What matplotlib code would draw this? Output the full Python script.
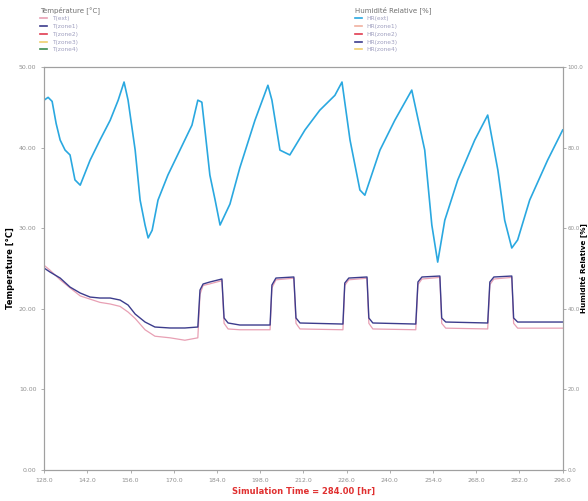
import matplotlib.pyplot as plt
from matplotlib.ticker import FormatStrFormatter
from matplotlib.lines import Line2D

# Humidite relative exterieure [%]
hum_t = [128.0, 129.3, 130.6, 131.9, 133.2, 134.8, 136.4, 138.0, 139.7, 142.9,
         146.1, 149.4, 152.0, 153.9, 155.2, 157.5, 159.1, 160.7, 161.7, 163.0,
         164.9, 168.1, 172.0, 175.9, 177.8, 179.1, 180.1, 181.7, 183.4, 185.0,
         188.2, 191.4, 196.3, 200.5, 201.8, 204.4, 207.6, 212.5, 217.3, 222.2,
         224.5, 227.1, 230.3, 231.9, 236.8, 241.6, 247.1, 251.3, 253.6, 255.5,
         257.8, 262.0, 267.5, 271.7, 275.0, 277.2, 279.5, 281.4, 285.3, 291.1,
         296.0]
hum_rh = [91.8, 92.5, 91.5, 86.0, 81.9, 79.4, 78.2, 72.0, 70.7, 76.9,
          81.9, 86.8, 91.8, 96.3, 91.8, 79.4, 67.0, 60.8, 57.6, 59.5,
          67.0, 73.2, 79.4, 85.6, 91.8, 91.3, 84.4, 73.2, 67.0, 60.8,
          66.0, 75.0, 86.8, 95.5, 91.8, 79.4, 78.2, 84.4, 89.3, 93.0,
          96.3, 81.9, 69.5, 68.2, 79.4, 86.8, 94.3, 79.4, 60.8, 51.6,
          62.0, 72.0, 81.9, 88.1, 74.4, 62.0, 55.1, 57.1, 67.0, 76.9,
          84.4]

# Temperatures [C]
temp_t = [128.0, 129.9, 133.2, 136.4, 139.7, 142.9, 146.1, 149.4, 152.6, 155.2,
          157.5, 160.7, 163.9, 168.8, 173.6, 177.8, 178.5, 179.5, 181.7, 185.6,
          186.3, 187.6, 191.4, 201.2, 201.8, 203.1, 208.9, 209.6, 210.9, 224.8,
          225.4, 226.7, 232.6, 233.2, 234.5, 248.4, 249.1, 250.4, 256.2, 256.8,
          258.1, 271.7, 272.4, 273.7, 279.5, 280.1, 281.4, 296.0]
t_zone = [25.06, 24.57, 23.82, 22.70, 21.96, 21.46, 21.34, 21.34, 21.09, 20.47,
          19.35, 18.36, 17.74, 17.62, 17.62, 17.74, 22.33, 23.08, 23.33, 23.70,
          18.86, 18.24, 17.99, 17.99, 22.95, 23.82, 23.95, 18.86, 18.24, 18.11,
          23.20, 23.82, 23.95, 18.86, 18.24, 18.11, 23.33, 23.95, 24.07, 18.86,
          18.36, 18.24, 23.33, 23.95, 24.07, 18.86, 18.36, 18.36]
t_int = [25.40, 24.80, 23.60, 22.60, 21.60, 21.20, 20.80, 20.60, 20.30, 19.60,
         18.80, 17.40, 16.60, 16.40, 16.10, 16.40, 21.80, 22.90, 23.10, 23.50,
         18.20, 17.50, 17.40, 17.40, 22.60, 23.60, 23.80, 18.20, 17.50, 17.40,
         22.90, 23.60, 23.80, 18.20, 17.50, 17.40, 23.00, 23.70, 23.90, 18.20,
         17.60, 17.50, 23.00, 23.70, 23.90, 18.20, 17.60, 17.60]

temp_labels = ["T(ext)", "T(zone1)", "T(zone2)", "T(zone3)", "T(zone4)"]
temp_colors = ["#e8a0b4", "#3c3c8c", "#e03c50", "#f0d070", "#3c8c50"]
hum_labels = ["HR(ext)", "HR(zone1)", "HR(zone2)", "HR(zone3)", "HR(zone4)"]
hum_colors = ["#2aa8e0", "#f0b0a0", "#e03c50", "#3c3c8c", "#f0d070"]

x_ticks = [128, 142, 156, 170, 184, 198, 212, 226, 240, 254, 268, 282, 296]

fig = plt.figure(figsize=(5.88, 5.01), dpi=100)
ax = fig.add_axes([0.075, 0.062, 0.882, 0.804])
ax2 = ax.twinx()

ax.plot(temp_t, t_int, color=temp_colors[0], lw=0.9)
ax.plot(temp_t, t_zone, color=temp_colors[1], lw=1.0)
ax2.plot(hum_t, hum_rh, color=hum_colors[0], lw=1.2)

ax.set_xlim(128, 296)
ax.set_ylim(0, 50)
ax2.set_ylim(0, 100)
ax.set_xticks(x_ticks)
ax.set_yticks([0, 10, 20, 30, 40, 50])
ax2.set_yticks([0, 20, 40, 60, 80, 100])
ax.xaxis.set_major_formatter(FormatStrFormatter("%.1f"))
ax.yaxis.set_major_formatter(FormatStrFormatter("%.2f"))
ax2.yaxis.set_major_formatter(FormatStrFormatter("%.1f"))

for a in (ax, ax2):
    for s in a.spines.values():
        s.set_color("#a0a0a0")
    a.tick_params(labelsize=4.5, colors="#909090", length=2, width=0.5)
ax2.tick_params(labelsize=4, pad=1.5)

ax.set_ylabel("Temperature [°C]", fontsize=6, fontweight="bold", labelpad=3)
ax2.set_ylabel("Humidité Relative [%]", fontsize=5.2, fontweight="bold")
ax2.yaxis.set_label_coords(1.031, 0.5)
ax.set_xlabel("Simulation Time = 284.00 [hr]", fontsize=6, fontweight="bold",
              color="#e03030", labelpad=3)

h1 = [Line2D([], [], color=c, lw=1.2) for c in temp_colors]
h2 = [Line2D([], [], color=c, lw=1.2) for c in hum_colors]
leg1 = fig.legend(h1, temp_labels, title="Température [°C]", loc="upper left",
                  bbox_to_anchor=(0.062, 0.995), fontsize=4.2, title_fontsize=5,
                  frameon=False, handlelength=1.2, labelspacing=0.45,
                  borderaxespad=0.2, labelcolor="#a0a0c0", alignment="left")
leg1.get_title().set_color("#707070")
leg2 = fig.legend(h2, hum_labels, title="Humidité Relative [%]", loc="upper left",
                  bbox_to_anchor=(0.598, 0.995), fontsize=4.2, title_fontsize=5,
                  frameon=False, handlelength=1.2, labelspacing=0.45,
                  borderaxespad=0.2, labelcolor="#a0a0c0", alignment="left")
leg2.get_title().set_color("#707070")

fig.savefig("out.png", dpi=100)
